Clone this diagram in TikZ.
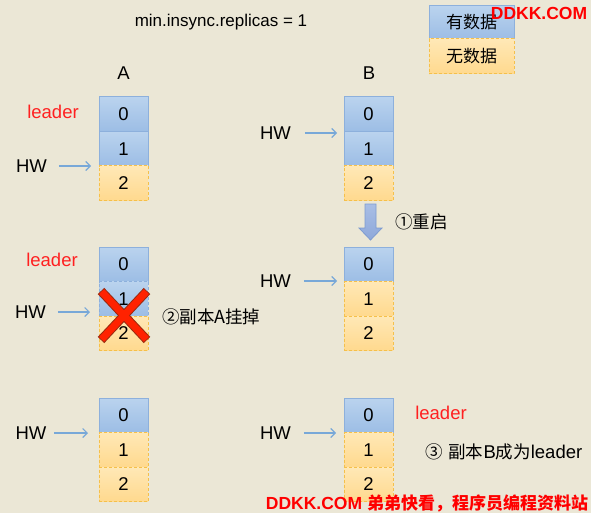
\documentclass[tikz,border=0pt]{standalone}
\usepackage{fontspec}
\setmainfont{Liberation Sans}
\newfontfamily\cjk{Noto Sans CJK SC}
\usetikzlibrary{arrows.meta,calc}
\definecolor{bg}{HTML}{EBE7D6}
\definecolor{cbTop}{HTML}{BAD3EE}
\definecolor{cbBot}{HTML}{9CBDE5}
\definecolor{cbLine}{HTML}{8DB0DC}
\definecolor{cyTop}{HTML}{FFE8B6}
\definecolor{cyBot}{HTML}{FFD98E}
\definecolor{cyLine}{HTML}{F5C04A}
\definecolor{hwblue}{HTML}{78A8D8}
\definecolor{wmred}{HTML}{FF0000}
\definecolor{ldred}{HTML}{FF2020}
\definecolor{xred}{HTML}{FF2200}
\definecolor{xdark}{HTML}{9A2A10}
\definecolor{raTop}{HTML}{A9BEE5}
\definecolor{raBot}{HTML}{8EA8DA}
\definecolor{raLine}{HTML}{7D9BD0}
\begin{document}
\begin{tikzpicture}[x=1pt,y=-1pt,
  txt/.style={inner sep=0pt, outer sep=0pt, font=\fontsize{18.5}{22}\selectfont, text=black},
  ttl/.style={inner sep=0pt, outer sep=0pt, font=\fontsize{17}{20}\selectfont, text=black},
  cjktxt/.style={txt, font=\cjk\fontsize{17.5}{20}\selectfont},
  cell/.style={minimum width=49pt, minimum height=34.5pt, inner sep=0pt, outer sep=0pt, line width=1pt, font=\fontsize{18.5}{22}\selectfont, text=black},
  bcell/.style={cell, top color=cbTop, bottom color=cbBot, draw=cbLine},
  bdcell/.style={cell, top color=cbTop, bottom color=cbBot, draw=cbLine, dash pattern=on 3pt off 2pt},
  ycell/.style={cell, top color=cyTop, bottom color=cyBot, draw=cyLine, dash pattern=on 3pt off 2pt},
  hwarrow/.style={draw=hwblue, line width=1.1pt, -{Straight Barb[length=4.5pt,width=9pt,line width=1.1pt]}},
  leaderlbl/.style={txt, text=ldred},
  wm/.style={inner sep=0pt, outer sep=0pt, text=wmred, font=\bfseries\fontsize{17.5}{20}\selectfont},
  xout/.style={line cap=butt}
]
\fill[bg] (0,0) rectangle (591,513);
\useasboundingbox (0,0) rectangle (591,513);

% title and column labels
\node[ttl] (title) at (221,22) {min.insync.replicas = 1};
\node[txt] (labA) at (123.5,73) {A};
\node[txt] (labB) at (369,73) {B};

% legend
\node[bcell, minimum width=85pt, minimum height=33pt, font=\cjk\fontsize{17}{20}\selectfont] (leg1) at (471.5,22.5) {有数据};
\node[ycell, minimum width=85pt, minimum height=35pt, font=\cjk\fontsize{17}{20}\selectfont, anchor=north] (leg2) at (leg1.south) {无数据};

% ---------- row 1 ----------
\node[bcell, anchor=north] (a10) at (123.5,97) {0};
\node[bcell, anchor=north] (a11) at (a10.south) {1};
\node[ycell, anchor=north] (a12) at (a11.south) {2};
\node[bcell, anchor=north] (b10) at (368.5,97) {0};
\node[bcell, anchor=north] (b11) at (b10.south) {1};
\node[ycell, anchor=north] (b12) at (b11.south) {2};

\node[leaderlbl] (lda1) at (53,112) {leader};
\node[txt] (hwa1) at (31.5,166) {HW};
\draw[hwarrow] ([xshift=12pt]hwa1.east) -- ([xshift=-8pt]hwa1.east -| a11.west);
\node[txt] (hwb1) at (275.5,133) {HW};
\draw[hwarrow] ([xshift=14pt]hwb1.east) -- ([xshift=-7pt]hwb1.east -| b11.west);

% restart arrow
\path[top color=raTop, bottom color=raBot, draw=raLine, line width=0.8pt]
  (365,204) -- (376,204) -- (376,228) -- (382,228) -- (370.5,240) -- (359,228) -- (365,228) -- cycle;
\node[cjktxt, anchor=west] (step1) at (395,222) {①重启};

% ---------- row 2 ----------
\node[bcell, anchor=north] (a20) at (123.5,247) {0};
\node[bdcell, anchor=north] (a21) at (a20.south) {1};
\node[ycell, anchor=north] (a22) at (a21.south) {2};
\node[bcell, anchor=north] (b20) at (368.5,247) {0};
\node[ycell, anchor=north] (b21) at (b20.south) {1};
\node[ycell, anchor=north] (b22) at (b21.south) {2};

\node[leaderlbl] (lda2) at (52,260) {leader};
\node[txt] (hwa2) at (30.5,312) {HW};
\draw[hwarrow] ([xshift=12pt]hwa2.east) -- ([xshift=-9pt]hwa2.east -| a21.west);
\node[txt] (hwb2) at (275.5,281) {HW};
\draw[hwarrow] ([xshift=13pt]hwb2.east) -- ([xshift=-7pt]hwb2.east -| b21.west);

% red cross
\draw[xout, draw=xdark, line width=9pt] (101,291) -- (147,340);
\draw[xout, draw=xdark, line width=9pt] (147,291) -- (101,340);
\draw[xout, draw=xred, line width=7pt] (101.6,291.6) -- (146.4,339.4);
\draw[xout, draw=xred, line width=7pt] (146.4,291.6) -- (101.6,339.4);
\node[cjktxt, anchor=west] (step2) at (162,317) {②副本{\fontsize{18}{22}\selectfont A}挂掉};

% ---------- row 3 ----------
\node[bcell, anchor=north] (a30) at (123.5,398) {0};
\node[ycell, anchor=north] (a31) at (a30.south) {1};
\node[ycell, anchor=north] (a32) at (a31.south) {2};
\node[bcell, anchor=north] (b30) at (368.5,398) {0};
\node[ycell, anchor=north] (b31) at (b30.south) {1};
\node[ycell, anchor=north] (b32) at (b31.south) {2};

\node[txt] (hwa3) at (31,433) {HW};
\draw[hwarrow] ([xshift=8pt]hwa3.east) -- ([xshift=-11pt]hwa3.east -| a31.west);
\node[txt] (hwb3) at (275.5,433) {HW};
\draw[hwarrow] ([xshift=13pt]hwb3.east) -- ([xshift=-8pt]hwb3.east -| b31.west);

\node[leaderlbl] (ldb3) at (441,413) {leader};
\node[txt, anchor=west] (step3) at (425,452) {{\cjk\fontsize{17.5}{20}\selectfont ③\hspace{6pt}副本}B{\cjk\fontsize{17.5}{20}\selectfont 成为}leader};

% watermarks
\node[wm] (wm1) at (539,13) {DDKK.COM};
\node[wm, anchor=east] (wm2) at (588,503) {DDKK.COM {\cjk\bfseries\fontsize{17}{20}\selectfont 弟弟快看，程序员编程资料站}};
\end{tikzpicture}
\end{document}
